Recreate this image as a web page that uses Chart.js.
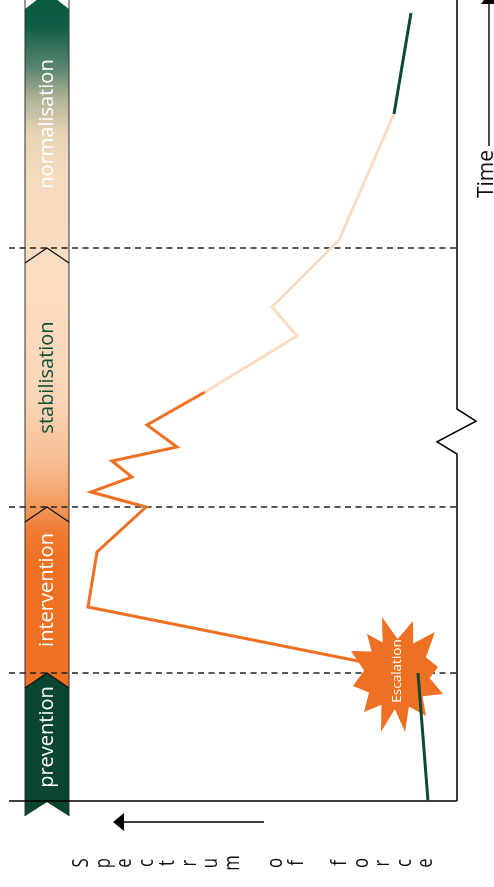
<!DOCTYPE html>
<html>
<head>
<meta charset="utf-8">
<script src="https://cdn.jsdelivr.net/npm/chart.js@4.4.1/dist/chart.umd.min.js"></script>
<style>
  html, body { margin: 0; padding: 0; background: #fff; }
</style>
</head>
<body>
<canvas id="chart" width="494" height="887"></canvas>
<script>
// phases along the time axis
const phaseNames = ['prevention', 'intervention', 'stabilisation', 'normalisation'];
const phaseStart = [0, 128, 294, 553];
const timeMax = 801;
const forceMax = 448;

// the path of the situation: time (up) against force (to the left)
const lineTime  = [0, 128, 194, 249, 294, 309, 324, 340, 354, 376, 409, 465, 494, 561, 687, 788];
const lineForce = [29, 39, 369, 360, 311, 366, 325, 345, 280, 310, 252, 160, 185, 118, 63, 46];
// phase index of each segment (segment i joins point i and i+1)
const segmentPhase = [0, 1, 1, 1, 1, 1, 1, 1, 1, 1, 2, 2, 2, 2, 3];

const escalation = { label: 'Escalation', time: 127, force: 60 };
const timeLabel = 'Time';
const forceLabel = 'Spectrum of force';
const axisBreak = [392, 347];   // time span of the zigzag on the right axis

const GREEN = '#0b4a36';
const ORANGE = '#ee7023';
const PEACH = '#fcdcc0';
const phaseColors = [GREEN, ORANGE, PEACH, GREEN];
const labelColors = ['#ffffff', '#ffffff', '#0e4d38', '#ffffff'];

const points = lineTime.map((t, i) => ({ x: lineForce[i], y: t }));

function line(ctx, pts) {
    ctx.beginPath();
    pts.forEach((p, i) => i ? ctx.lineTo(p[0], p[1]) : ctx.moveTo(p[0], p[1]));
    ctx.stroke();
}

const diagram = {
    id: 'diagram',
    beforeDatasetsDraw(chart) {
        const { ctx, chartArea: area, scales: { x, y } } = chart;
        const bx0 = 25, bx1 = 69, bxm = 47, notch = 15;
        const top = y.getPixelForValue(timeMax);
        const bottom = y.getPixelForValue(0);
        ctx.save();

        // phase band
        const grad = ctx.createLinearGradient(0, top, 0, bottom);
        grad.addColorStop(0, '#0a5a41');
        grad.addColorStop(0.035, '#125f48');
        grad.addColorStop(0.085, '#5a8670');
        grad.addColorStop(0.125, '#b3b598');
        grad.addColorStop(0.165, '#e6d3b6');
        grad.addColorStop(0.22, '#f5dbbf');
        grad.addColorStop(0.36, '#fbdcc2');
        grad.addColorStop(0.5, '#fad5b6');
        grad.addColorStop(0.575, '#f7be92');
        grad.addColorStop(0.625, '#f3a064');
        grad.addColorStop(0.662, '#ef7c33');
        grad.addColorStop(0.7, ORANGE);
        grad.addColorStop(1, ORANGE);
        const outline = [[bx0, top + 9], [bxm, top - 8], [bx1, top + 9],
                         [bx1, bottom + 15], [bxm, bottom + 1], [bx0, bottom + 15]];
        ctx.beginPath();
        outline.forEach((p, i) => i ? ctx.lineTo(p[0], p[1]) : ctx.moveTo(p[0], p[1]));
        ctx.closePath();
        ctx.fillStyle = grad;
        ctx.fill();

        const yp = y.getPixelForValue(phaseStart[1]);
        ctx.beginPath();
        ctx.moveTo(bx0, yp + notch);
        ctx.lineTo(bxm, yp);
        ctx.lineTo(bx1, yp + notch);
        ctx.lineTo(bx1, bottom + 15);
        ctx.lineTo(bxm, bottom + 1);
        ctx.lineTo(bx0, bottom + 15);
        ctx.closePath();
        ctx.fillStyle = '#0a4532';
        ctx.fill();

        ctx.strokeStyle = '#333';
        ctx.lineWidth = 1;
        line(ctx, [[bx0, top], [bx0, bottom + 15]]);
        line(ctx, [[bx1, top], [bx1, bottom + 15]]);
        ctx.strokeStyle = '#111';
        ctx.lineWidth = 1.3;
        for (let i = 1; i < phaseStart.length; i++) {
            const yb = y.getPixelForValue(phaseStart[i]);
            line(ctx, [[bx0, yb + notch], [bxm, yb], [bx1, yb + notch]]);
        }

        // phase labels
        ctx.font = '20px "Open Sans"';
        ctx.textAlign = 'center';
        ctx.textBaseline = 'alphabetic';
        phaseNames.forEach((name, i) => {
            const end = i + 1 < phaseStart.length ? phaseStart[i + 1] : timeMax;
            const yc = y.getPixelForValue((phaseStart[i] + end) / 2);
            ctx.save();
            ctx.translate(53, yc);
            ctx.rotate(-Math.PI / 2);
            ctx.fillStyle = labelColors[i];
            ctx.fillText(name, 0, 0);
            ctx.restore();
        });

        // dashed phase boundaries
        ctx.strokeStyle = '#222';
        ctx.lineWidth = 1.3;
        ctx.setLineDash([6, 4.5]);
        for (let i = 1; i < phaseStart.length; i++) {
            const yb = y.getPixelForValue(phaseStart[i]);
            line(ctx, [[area.left, yb], [area.right, yb]]);
        }
        ctx.setLineDash([]);

        // axes
        const xr = x.getPixelForValue(0);
        const b1 = y.getPixelForValue(axisBreak[0]);
        const b2 = y.getPixelForValue(axisBreak[1]);
        const h = b2 - b1;
        ctx.strokeStyle = '#000';
        ctx.lineWidth = 1.5;
        line(ctx, [[area.left, bottom], [xr, bottom]]);
        line(ctx, [[xr, top], [xr, b1], [xr + 19, b1 + h * 0.27],
                   [xr - 20, b1 + h * 0.73], [xr, b2], [xr, bottom]]);

        // time arrow
        ctx.lineWidth = 1.4;
        line(ctx, [[489, 146], [489, 4]]);
        ctx.beginPath();
        ctx.moveTo(489, -7); ctx.lineTo(497, 4); ctx.lineTo(481, 4);
        ctx.closePath();
        ctx.fillStyle = '#000';
        ctx.fill();
        ctx.save();
        ctx.translate(493, 198);
        ctx.rotate(-Math.PI / 2);
        ctx.font = '21px "Open Sans"';
        ctx.textAlign = 'left';
        ctx.fillStyle = '#111';
        ctx.fillText(timeLabel, 0, 0);
        ctx.restore();

        // force arrow
        line(ctx, [[264, 822], [122, 822]]);
        ctx.beginPath();
        ctx.moveTo(113, 822); ctx.lineTo(124, 813); ctx.lineTo(124, 831);
        ctx.closePath();
        ctx.fill();
        ctx.font = '21px "Open Sans"';
        ctx.textAlign = 'center';
        forceLabel.split('').forEach((ch, i) => {
            if (ch === ' ') return;
            ctx.save();
            ctx.translate(82 + i * 21.5 + 6, 863);
            ctx.rotate(-Math.PI / 2);
            ctx.scale(0.8, 1);
            ctx.fillStyle = '#111';
            ctx.fillText(ch, 0, 0);
            ctx.restore();
        });
        ctx.restore();
    },
    afterDatasetDraw(chart, args) {
        if (args.index !== 1) return;
        const { ctx, scales: { x, y } } = chart;
        const cx = x.getPixelForValue(escalation.force);
        const cy = y.getPixelForValue(escalation.time);
        const tips = [[-15, -57], [16, -53], [38, -42], [41, -7], [46, 20], [29, 42],
                      [8, 58], [-16, 58], [-33, 38], [-44, 12], [-46, -23], [-30, -40]];
        ctx.save();
        ctx.beginPath();
        tips.forEach((p, i) => {
            const q = tips[(i + 1) % tips.length];
            const a1 = Math.atan2(p[1], p[0]);
            let a2 = Math.atan2(q[1], q[0]);
            if (a2 < a1) a2 += Math.PI * 2;
            const am = (a1 + a2) / 2;
            if (i === 0) ctx.moveTo(cx + p[0], cy + p[1]); else ctx.lineTo(cx + p[0], cy + p[1]);
            ctx.lineTo(cx + Math.cos(am) * 33, cy + Math.sin(am) * 35);
        });
        ctx.closePath();
        ctx.fillStyle = ORANGE;
        ctx.fill();
        ctx.translate(cx + 4, cy - 3);
        ctx.rotate(-Math.PI / 2);
        ctx.font = '13.5px "Open Sans"';
        ctx.textAlign = 'center';
        ctx.textBaseline = 'alphabetic';
        ctx.fillStyle = '#fff';
        ctx.fillText(escalation.label, 0, 0);
        ctx.restore();
    }
};

new Chart(document.getElementById('chart'), {
    type: 'scatter',
    data: {
        datasets: [{
            data: points.slice(0, 2),
            showLine: true,
            borderColor: phaseColors[segmentPhase[0]],
            borderWidth: 3,
            pointRadius: 0
        }, {
            data: points.slice(1),
            showLine: true,
            borderWidth: 3,
            borderJoinStyle: 'miter',
            pointRadius: 0,
            segment: {
                borderColor: c => phaseColors[segmentPhase[c.p0DataIndex + 1]]
            }
        }]
    },
    options: {
        responsive: false,
        devicePixelRatio: 1,
        animation: false,
        layout: { padding: { left: 9, right: 37, top: 0, bottom: 86 } },
        scales: {
            x: { type: 'linear', reverse: true, min: 0, max: forceMax, display: false },
            y: { type: 'linear', min: 0, max: timeMax, display: false }
        },
        plugins: {
            legend: { display: false },
            tooltip: { enabled: false }
        }
    },
    plugins: [diagram]
});
</script>
</body>
</html>
